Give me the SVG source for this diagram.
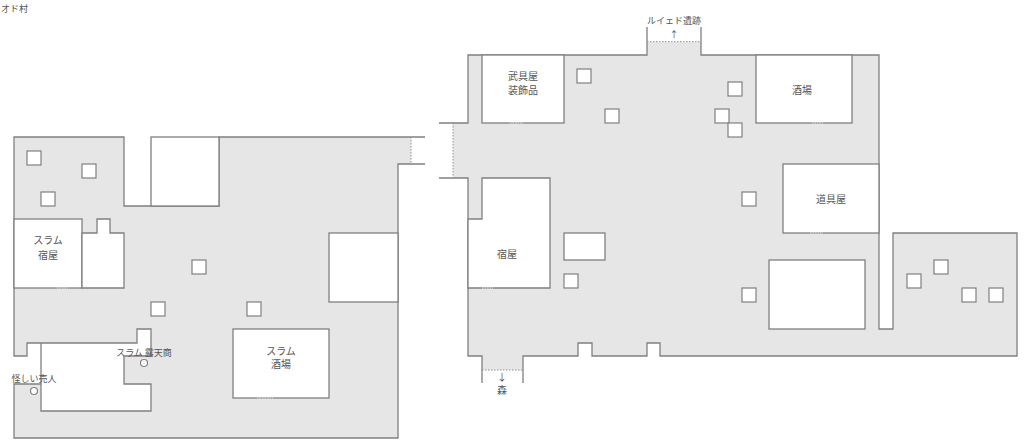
<svg xmlns="http://www.w3.org/2000/svg" width="1024" height="447" viewBox="0 0 1024 447">
<style>
.floor{fill:#e6e6e6;stroke:none}
.wall{fill:none;stroke:#808080;stroke-width:1.3}
.dot{fill:none;stroke:#909090;stroke-width:1;stroke-dasharray:1.5,1.5}
.bld{fill:#ffffff;stroke:#808080;stroke-width:1.3}
.door{fill:none;stroke:#d0d0d0;stroke-width:1.4;stroke-dasharray:1.5,1}
.obj{fill:#ffffff;stroke:#808080;stroke-width:1.2}
.lbl{font-family:"Noto Sans CJK JP","Noto Sans",sans-serif;font-size:10px;fill:#555555}
.sm{font-size:9px}
</style>
<rect width="1024" height="447" fill="#ffffff"/>
<text class="lbl sm" x="1" y="12">オド村</text>

<g id="left-map">
  <path class="floor" d="M14,137 H124 V206 H219 V137 H411 V164 H398 V438 H14 V384 H41 V411 H151 V384 H124 V356 H151 V329 H137 V343 H27 V356 H14 Z"/>
  <path class="wall" d="M425,137 H219 V206 H124 V137 H14 V356 H27 V343 H137 V329 H151 V356 H124 V384 H151 V411 H41 V384 H14 V438 H398 V164 H425 M41,343 V384"/>
  <path class="dot" d="M411,137 V164"/>
</g>

<g id="right-map">
  <path class="floor" d="M453,123 H468 V55 H647 V41.7 H701 V55 H879 V329 H893 V233 H1017 V356 H660 V343 H647 V356 H592 V343 H578 V356 H523 V370 H482 V356 H468 V178 H453 Z"/>
  <path class="wall" d="M439,123 H468 V55 H647 V27 M701,27 V55 H879 V329 H893 V233 H1017 V356 H660 V343 H647 V356 H592 V343 H578 V356 H523 V383 M482,383 V356 H468 V178 H439"/>
  <path class="dot" d="M453,123 V178 M647,41.7 H701 M482,370 H523"/>
</g>

<g id="building-north">
  <rect class="bld" x="151" y="137" width="68" height="69"/>
</g>
<g id="slum-inn">
  <rect class="bld" x="14" y="219" width="68" height="69"/>
  <path class="door" d="M57,288 H68"/>
  <text class="lbl" x="48" y="244" text-anchor="middle">スラム</text>
  <text class="lbl" x="48" y="259" text-anchor="middle">宿屋</text>
</g>
<g id="slum-annex">
  <path class="bld" d="M82,233 H97 V219 H110 V233 H124 V288 H82 Z"/>
</g>
<g id="building-east">
  <rect class="bld" x="329" y="233" width="69" height="69"/>
</g>
<g id="slum-tavern">
  <rect class="bld" x="233" y="329" width="96" height="69"/>
  <path class="door" d="M257,398 H273"/>
  <text class="lbl" x="281" y="355" text-anchor="middle">スラム</text>
  <text class="lbl" x="281" y="368" text-anchor="middle">酒場</text>
</g>
<g id="slum-stall">
  <circle class="obj" cx="144" cy="363" r="3.5"/>
  <text class="lbl sm" x="144" y="356" text-anchor="middle">スラム 露天商</text>
</g>
<g id="shady-dealer">
  <circle class="obj" cx="34" cy="391" r="3.5"/>
  <text class="lbl sm" x="34" y="382" text-anchor="middle">怪しい売人</text>
</g>
<g id="left-objects">
  <rect class="obj" x="27" y="151" width="14" height="14"/>
  <rect class="obj" x="82" y="164" width="14" height="14"/>
  <rect class="obj" x="41" y="192" width="14" height="14"/>
  <rect class="obj" x="192" y="260" width="14" height="14"/>
  <rect class="obj" x="151" y="302" width="14" height="14"/>
  <rect class="obj" x="247" y="302" width="14" height="14"/>
</g>

<g id="armor-shop">
  <rect class="bld" x="482" y="55" width="82" height="68"/>
  <path class="door" d="M510,123 H523"/>
  <text class="lbl" x="523" y="80" text-anchor="middle">武具屋</text>
  <text class="lbl" x="523" y="94" text-anchor="middle">装飾品</text>
</g>
<g id="tavern">
  <rect class="bld" x="756" y="55" width="96" height="68"/>
  <path class="door" d="M812,123 H823"/>
  <text class="lbl" x="802" y="94" text-anchor="middle">酒場</text>
</g>
<g id="item-shop">
  <rect class="bld" x="783" y="164" width="96" height="69"/>
  <path class="door" d="M810,233 H823"/>
  <text class="lbl" x="831" y="203" text-anchor="middle">道具屋</text>
</g>
<g id="inn">
  <path class="bld" d="M482,178 H550 V288 H468 V219 H482 Z"/>
  <path class="door" d="M482,288 H493"/>
  <text class="lbl" x="507" y="258" text-anchor="middle">宿屋</text>
</g>
<g id="building-small">
  <rect class="bld" x="564" y="233" width="41" height="27"/>
</g>
<g id="building-large">
  <rect class="bld" x="769" y="260" width="96" height="69"/>
</g>
<g id="right-objects">
  <rect class="obj" x="577" y="69" width="14" height="14"/>
  <rect class="obj" x="605" y="109" width="14" height="14"/>
  <rect class="obj" x="728" y="82" width="14" height="14"/>
  <rect class="obj" x="715" y="109" width="14" height="14"/>
  <rect class="obj" x="728" y="123" width="14" height="14"/>
  <rect class="obj" x="742" y="192" width="14" height="14"/>
  <rect class="obj" x="742" y="288" width="14" height="14"/>
  <rect class="obj" x="564" y="274" width="14" height="14"/>
  <rect class="obj" x="907" y="274" width="14" height="14"/>
  <rect class="obj" x="934" y="260" width="14" height="14"/>
  <rect class="obj" x="962" y="288" width="14" height="14"/>
  <rect class="obj" x="989" y="288" width="14" height="14"/>
</g>

<g id="exit-north">
  <text class="lbl sm" x="674" y="24" text-anchor="middle">ルイェド遺跡</text>
  <text class="lbl sm" x="674" y="38" text-anchor="middle">↑</text>
</g>
<g id="exit-south">
  <text class="lbl" x="502" y="381" text-anchor="middle">↓</text>
  <text class="lbl" x="502" y="394" text-anchor="middle">森</text>
</g>
</svg>
